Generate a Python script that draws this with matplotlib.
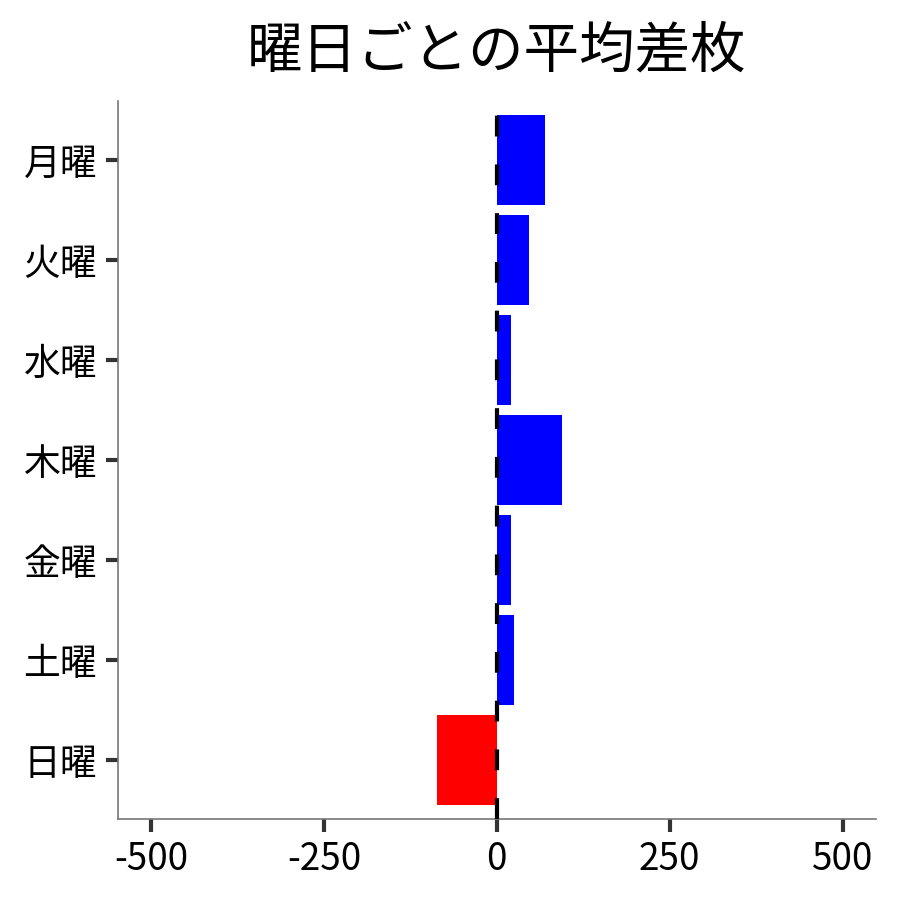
import matplotlib
matplotlib.use("Agg")
import matplotlib.pyplot as plt

plt.rcParams['font.family'] = ['Noto Sans CJK JP', 'DejaVu Sans']

days = ['月曜', '火曜', '水曜', '木曜', '金曜', '土曜', '日曜']
avg_diff = [69, 47, 20, 94, 20, 25, -87]
xticks = [-500, -250, 0, 250, 500]

colors = ['red' if v < 0 else 'blue' for v in avg_diff]

fig = plt.figure(figsize=(9, 9), dpi=100)
ax = fig.add_axes([0.131, 0.09, 0.842, 0.798])

ypos = list(range(len(days)))
ax.barh(ypos, avg_diff, height=0.9, color=colors, zorder=2)
ax.axvline(0, color='black', linestyle='--', linewidth=3, dashes=(5, 6.7), zorder=3)

ax.set_yticks(ypos)
ax.set_yticklabels(days)
ax.set_ylim(len(days) - 1 + 0.59, -0.59)
ax.set_xlim(-548, 548)
ax.set_xticks(xticks)
ax.set_xticklabels([str(t) for t in xticks])

for s in ['top', 'right']:
    ax.spines[s].set_visible(False)
for s in ['left', 'bottom']:
    ax.spines[s].set_color('#777777')
    ax.spines[s].set_linewidth(1.2)

ax.tick_params(axis='both', labelsize=26.5, length=9, width=3, color='#333333', pad=6)

ax.set_title('曜日ごとの平均差枚', fontsize=40, pad=24)

fig.savefig('out.png', dpi=100)
